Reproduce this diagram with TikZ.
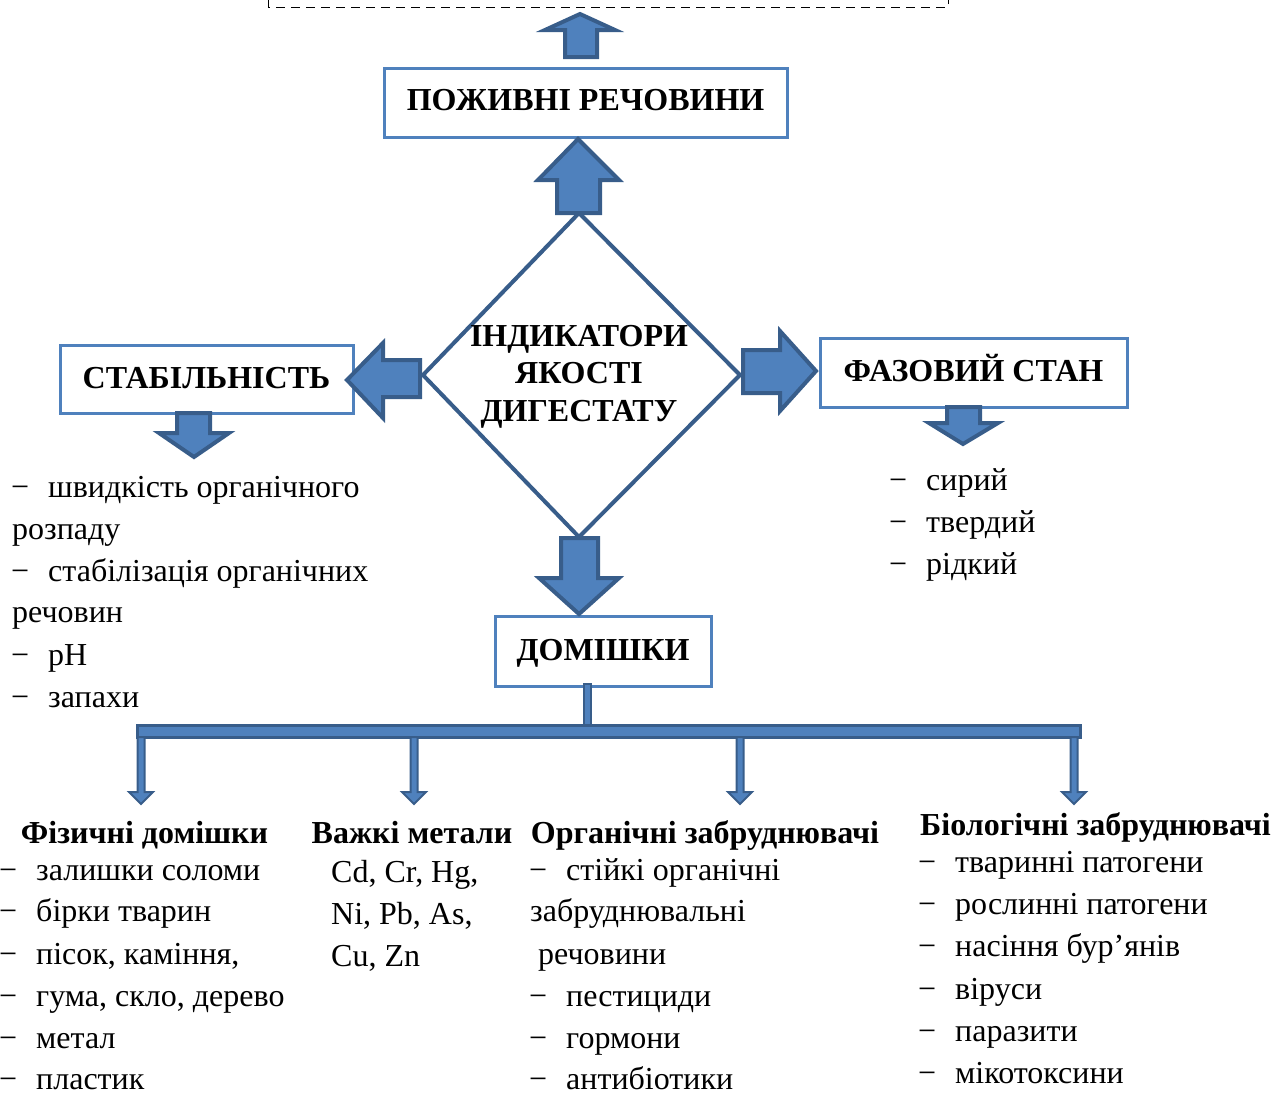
\documentclass[tikz,border=0pt]{standalone}
\usepackage{fontspec}
\setmainfont{Liberation Serif}
\definecolor{fillblue}{HTML}{4F81BD}
\definecolor{darkblue}{HTML}{385D8A}
\newcommand{\dsh}{−\hspace{19pt}}
\begin{document}
\begin{tikzpicture}[x=1pt,y=-1pt,
  box/.style={draw=fillblue,line width=3pt,fill=white,inner sep=0pt,font=\fontsize{32}{38}\selectfont\bfseries},
  bigarrow/.style={fill=fillblue,draw=darkblue,line width=4pt,line join=miter},
  smallarrow/.style={fill=fillblue,draw=darkblue,line width=2pt,line join=miter},
  txt/.style={anchor=base west,inner sep=0pt,font=\fontsize{32}{38}\selectfont},
  ttl/.style={anchor=base,inner sep=0pt,font=\fontsize{32}{38}\selectfont\bfseries}]
\useasboundingbox (0,0) rectangle (1277,1095);
\clip (0,0) rectangle (1277,1095);
% top dashed box
\draw[line width=1pt,dash pattern=on 9pt off 6pt] (268,-30) rectangle (948,7);
% boxes
\node[box,minimum width=403pt,minimum height=69pt] (pog) at (585.5,102.5) {};
\node[ttl] (pogt) at (585.5,110) {ПОЖИВНІ РЕЧОВИНИ};
\node[box,minimum width=293pt,minimum height=68pt] (stab) at (206.5,379) {};
\node[ttl] (stabt) at (206.5,388) {СТАБІЛЬНІСТЬ};
\node[box,minimum width=307pt,minimum height=69pt] (faz) at (973.5,372.5) {};
\node[ttl] (fazt) at (973.5,381) {ФАЗОВИЙ СТАН};
\node[box,minimum width=216pt,minimum height=70pt] (dom) at (603,651) {};
\node[ttl] (domt) at (603,660) {ДОМІШКИ};
% diamond
\draw[darkblue,line width=4pt,line join=miter] (579,213) coordinate (dtop) -- (740,375) coordinate (dright) -- (579,537) coordinate (dbot) -- (423,375) coordinate (dleft) -- cycle;
\node[ttl] (ind1) at (579,346) {ІНДИКАТОРИ};
\node[ttl] (ind2) at (579,383) {ЯКОСТІ};
\node[ttl] (ind3) at (579,421) {ДИГЕСТАТУ};
% big arrows
\draw[bigarrow] (565,57) -- (565,30) -- (545,30) -- (580,14) -- (615,30) -- (597,30) -- (597,57) -- cycle;
\draw[bigarrow] (557,213) -- (557,180) -- (538,180) -- (578,139) -- (619,180) -- (600,180) -- (600,213) -- cycle;
\draw[bigarrow] (420,360) -- (383,360) -- (383,343) -- (347,380) -- (383,418) -- (383,397) -- (420,397) -- cycle;
\draw[bigarrow] (743,350) -- (780,350) -- (780,331) -- (816,371) -- (780,411) -- (780,393) -- (743,393) -- cycle;
\draw[bigarrow] (177,413) -- (210,413) -- (210,433) -- (229,433) -- (194,457) -- (159,433) -- (177,433) -- cycle;
\draw[bigarrow] (947,407) -- (980,407) -- (980,423) -- (998,423) -- (963,444) -- (929,423) -- (947,423) -- cycle;
\draw[bigarrow] (561,538) -- (598,538) -- (598,578) -- (619,578) -- (579,614) -- (539,578) -- (561,578) -- cycle;
% connector from ДОМІШКИ and bar
\draw[smallarrow] (584,684) rectangle (591,725);
\draw[fill=fillblue,draw=darkblue,line width=3pt] (137,725) rectangle (1080,737);
\foreach \x in {141,414,740,1074}{
  \draw[smallarrow] (\x-3.5,737) -- (\x+3.5,737) -- (\x+3.5,792) -- (\x+12,792) -- (\x,804) -- (\x-12,792) -- (\x-3.5,792) -- cycle;
}
% left list
\node[txt] (l1) at (11,497) {\dsh швидкість органічного};
\node[txt] (l2) at (12,539) {розпаду};
\node[txt] (l3) at (11,581) {\dsh стабілізація органічних};
\node[txt] (l4) at (12,622) {речовин};
\node[txt] (l5) at (11,665) {\dsh pH};
\node[txt] (l6) at (11,707) {\dsh запахи};
% right list
\node[txt] (r1) at (889,490) {\dsh сирий};
\node[txt] (r2) at (889,532) {\dsh твердий};
\node[txt] (r3) at (889,574) {\dsh рідкий};
% bottom titles
\node[ttl] (t1) at (144.5,843) {Фізичні домішки};
\node[ttl] (t2) at (412,843) {Важкі метали};
\node[ttl] (t3) at (705,843) {Органічні забруднювачі};
\node[ttl] (t4) at (1095.5,835) {Біологічні забруднювачі};
% column 1
\node[txt] (a1) at (-1,880) {\dsh залишки соломи};
\node[txt] (a2) at (-1,921) {\dsh бірки тварин};
\node[txt] (a3) at (-1,964) {\dsh пісок, каміння,};
\node[txt] (a4) at (-1,1006) {\dsh гума, скло, дерево};
\node[txt] (a5) at (-1,1048) {\dsh метал};
\node[txt] (a6) at (-1,1089) {\dsh пластик};
% column 2
\node[txt] (b1) at (331,882) {Cd, Cr, Hg,};
\node[txt] (b2) at (331,924) {Ni, Pb, As,};
\node[txt] (b3) at (331,966) {Cu, Zn};
% column 3
\node[txt] (c1) at (529,880) {\dsh стійкі органічні};
\node[txt] (c2) at (530,921) {забруднювальні};
\node[txt] (c3) at (538,964) {речовини};
\node[txt] (c4) at (529,1006) {\dsh пестициди};
\node[txt] (c5) at (529,1048) {\dsh гормони};
\node[txt] (c6) at (529,1089) {\dsh антибіотики};
% column 4
\node[txt] (d1) at (918,872) {\dsh тваринні патогени};
\node[txt] (d2) at (918,914) {\dsh рослинні патогени};
\node[txt] (d3) at (918,956) {\dsh насіння бур’янів};
\node[txt] (d4) at (918,999) {\dsh віруси};
\node[txt] (d5) at (918,1041) {\dsh паразити};
\node[txt] (d6) at (918,1083) {\dsh мікотоксини};
\end{tikzpicture}
\end{document}
